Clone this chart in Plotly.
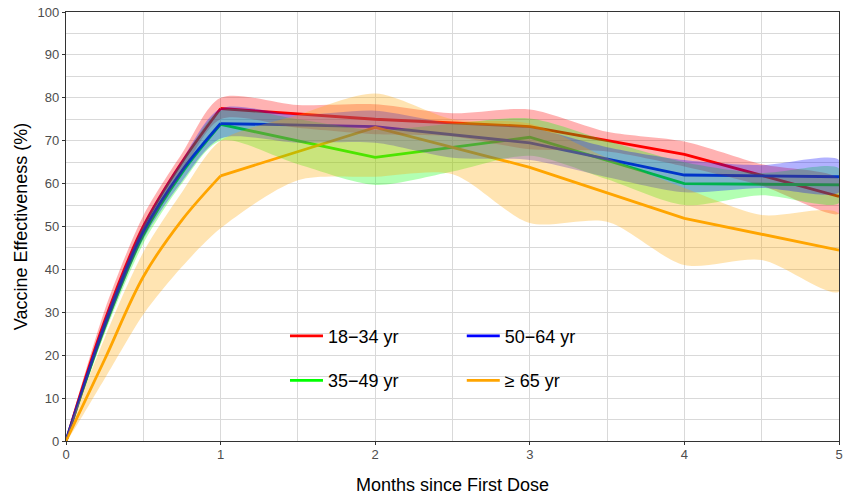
import plotly.graph_objects as go

# ---- data ----
months_line = [0, 0.25, 0.5, 0.75, 1, 2, 3, 4, 5]
months_band = [0, 0.25, 0.5, 0.75, 1, 1.5, 2, 2.5, 3, 3.5, 4, 4.5, 5]

groups = ["18\u221234 yr", "35\u221249 yr", "50\u221264 yr", "\u2265 65 yr"]
colors = ["#FF0000", "#00FF00", "#0000FF", "#FFA500"]
fills = ["rgba(255,0,0,0.3)", "rgba(0,255,0,0.3)", "rgba(0,0,255,0.3)", "rgba(255,165,0,0.3)"]

ve_18_34 = [0, 28, 50, 65, 77.5, 75, 73.3, 66.8, 57]
up_18_34 = [0, 30.5, 52.5, 67, 80, 78.3, 78.5, 76.4, 77.3, 72.1, 69.8, 64.5, 61]
lo_18_34 = [0, 25.5, 47.5, 62.5, 75, 73, 71.5, 71, 68, 67.5, 64, 59.5, 53]

ve_35_49 = [0, 26.5, 48, 62.5, 73.8, 66.1, 70.8, 60, 59.7]
up_35_49 = [0, 28, 50, 65, 77, 75, 72.5, 74, 75.2, 70, 65, 62.5, 63.5]
lo_35_49 = [0, 25, 46, 60, 70, 64.5, 59.7, 62.8, 66.5, 61, 55, 57.3, 55.5]

ve_50_64 = [0, 27, 48.8, 63, 74, 73.3, 69.5, 62, 61.6]
up_50_64 = [0, 28.5, 50.5, 65.5, 77.5, 76, 77, 74, 73, 68.5, 65.5, 64.3, 65.5]
lo_50_64 = [0, 25.5, 47, 60.5, 70.5, 69.5, 69.5, 66, 65.5, 61.5, 58, 59, 58]

ve_65 = [0, 19, 38.3, 51.5, 61.8, 73.1, 63.8, 51.9, 44.5]
up_65 = [0, 24, 44, 58, 70, 76, 81, 75, 74, 66, 59, 52.7, 53]
lo_65 = [0, 14.5, 29.5, 40.6, 49.6, 60.8, 61.6, 62.2, 50.8, 51.1, 41, 42.2, 34.8]

lines = [ve_18_34, ve_35_49, ve_50_64, ve_65]
uppers = [up_18_34, up_35_49, up_50_64, up_65]
lowers = [lo_18_34, lo_35_49, lo_50_64, lo_65]
legend_ids = ["legend", "legend", "legend2", "legend2"]

fig = go.Figure()

# lines first (curved rise to month 1, straight segments afterwards)
for i in range(4):
    fig.add_trace(go.Scatter(
        x=months_line[:5], y=lines[i][:5], mode="lines", showlegend=False,
        line=dict(color=colors[i], width=2.8, shape="spline", smoothing=1.0),
        legendgroup=f"g{i}", hoverinfo="skip"))
    fig.add_trace(go.Scatter(
        x=months_line[4:], y=lines[i][4:], mode="lines", name=groups[i],
        line=dict(color=colors[i], width=2.8),
        legend=legend_ids[i], legendgroup=f"g{i}", hoverinfo="skip"))

# confidence ribbons on top
for i in range(4):
    xs = months_band + months_band[::-1]
    ys = uppers[i] + lowers[i][::-1]
    fig.add_trace(go.Scatter(
        x=xs, y=ys, mode="lines", fill="toself", fillcolor=fills[i],
        line=dict(width=0, color="rgba(0,0,0,0)", shape="spline", smoothing=0.8),
        showlegend=False, hoverinfo="skip"))

font_family = "Liberation Sans, Arial, sans-serif"
grid = "#D9D9D9"

fig.update_layout(
    width=845, height=495,
    margin=dict(l=66, r=6, t=12, b=54),
    paper_bgcolor="white", plot_bgcolor="white",
    font=dict(family=font_family, color="black"),
    showlegend=True,
    legend=dict(x=0.2833, y=0.2873, xanchor="left", yanchor="top",
                bgcolor="rgba(0,0,0,0)", font=dict(size=18, color="black"),
                tracegroupgap=18, orientation="v", itemwidth=33),
    legend2=dict(x=0.512, y=0.2873, xanchor="left", yanchor="top",
                 bgcolor="rgba(0,0,0,0)", font=dict(size=18, color="black"),
                 tracegroupgap=18, orientation="v", itemwidth=33),
)

fig.update_xaxes(
    range=[0, 5], dtick=1, tick0=0, automargin=False,
    showgrid=True, gridcolor=grid, gridwidth=1.2,
    minor=dict(dtick=0.5, showgrid=True, gridcolor=grid, gridwidth=0.6),
    showline=True, linecolor="#333333", linewidth=1.2, mirror=True,
    ticks="outside", ticklen=3, tickcolor="#333333", ticklabelstandoff=-2,
    tickfont=dict(size=13, color="#4D4D4D"),
    title=dict(text="Months since First Dose", font=dict(size=18, color="black"), standoff=17),
    zeroline=False,
)
fig.update_yaxes(
    range=[0, 100], dtick=10, tick0=0, automargin=False,
    showgrid=True, gridcolor=grid, gridwidth=1.2,
    minor=dict(dtick=5, showgrid=True, gridcolor=grid, gridwidth=0.6),
    showline=True, linecolor="#333333", linewidth=1.2, mirror=True,
    ticks="outside", ticklen=3, tickcolor="#333333", ticklabelstandoff=0,
    tickfont=dict(size=13, color="#4D4D4D"),
    title=dict(text="Vaccine Effectiveness (%)", font=dict(size=18, color="black"), standoff=5),
    zeroline=False,
)

fig.write_html("out.html", config={"displayModeBar": False},
               post_script="document.body.style.margin='0';")
